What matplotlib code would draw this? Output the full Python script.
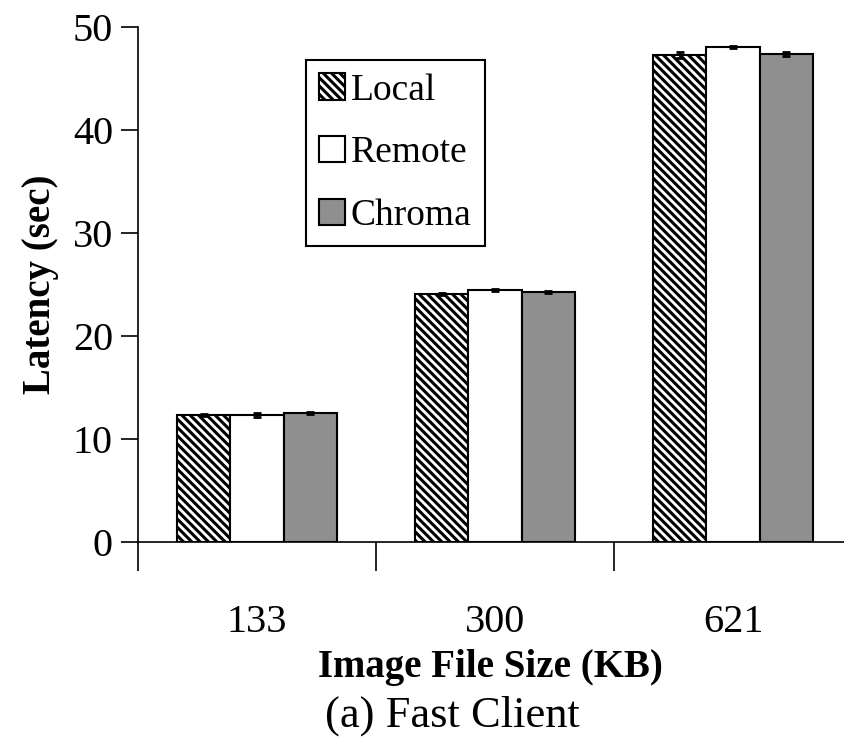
import matplotlib
matplotlib.use('Agg')
import matplotlib.pyplot as plt
import numpy as np

sizes = ['133', '300', '621']
series = ['Local', 'Remote', 'Chroma']
local = [12.3, 24.1, 47.3]
remote = [12.3, 24.5, 48.1]
chroma = [12.5, 24.3, 47.4]
local_err = [0.1, 0.1, 0.3]
remote_err = [0.2, 0.1, 0.1]
chroma_err = [0.1, 0.1, 0.2]

plt.rcParams['font.family'] = 'Liberation Serif'
plt.rcParams['hatch.linewidth'] = 2.2

fig = plt.figure(figsize=(8.44, 7.46), dpi=100)
ax = fig.add_axes([138 / 844, 204 / 746, 714 / 844, 515 / 746])

x = np.arange(len(sizes))
w = 0.223
err_kw = dict(ecolor='black', capsize=3, elinewidth=1.2, capthick=2)
ax.bar(x - w, local, w, yerr=local_err, color='white', edgecolor='black',
       hatch='\\\\\\\\', linewidth=1.5, label='Local', error_kw=err_kw)
ax.bar(x, remote, w, yerr=remote_err, color='white', edgecolor='black',
       linewidth=1.5, label='Remote', error_kw=err_kw)
ax.bar(x + w, chroma, w, yerr=chroma_err, color='#8f8f8f', edgecolor='black',
       linewidth=1.5, label='Chroma', error_kw=err_kw)

ax.set_xlim(-0.5, 2.5)
ax.set_ylim(0, 50)
ax.set_yticks([0, 10, 20, 30, 40, 50])
ax.tick_params(axis='y', labelsize=29, length=12, width=1.2, pad=6)
ax.set_xticks([-0.5, 0.5, 1.5, 2.5])
ax.set_xticklabels([])
ax.tick_params(axis='x', which='major', length=21, width=1.2)
ax.set_xticks(x, minor=True)
ax.set_xticklabels(sizes, minor=True)
ax.tick_params(axis='x', which='minor', length=0, labelsize=29, pad=45)

for s in ['top', 'right']:
    ax.spines[s].set_visible(False)
for s in ['left', 'bottom']:
    ax.spines[s].set_linewidth(1.2)

ax.set_ylabel('Latency (sec)', fontsize=28, fontweight='bold', labelpad=10)
fig.text(490 / 844, 1 - 668 / 746, 'Image File Size (KB)', fontsize=28,
         fontweight='bold', ha='center', va='center')
fig.text(452 / 844, 1 - 716 / 746, '(a) Fast Client', fontsize=32,
         ha='center', va='center')

leg = ax.legend(loc='upper left', bbox_to_anchor=(0.235, 0.936), borderaxespad=0,
                fontsize=27, fancybox=False, edgecolor='black', framealpha=1,
                handlelength=0.7, handleheight=0.7, handletextpad=0.15,
                labelspacing=0.75, borderpad=0.35)
leg.get_frame().set_linewidth(1.5)

fig.savefig('out.png', dpi=100)
